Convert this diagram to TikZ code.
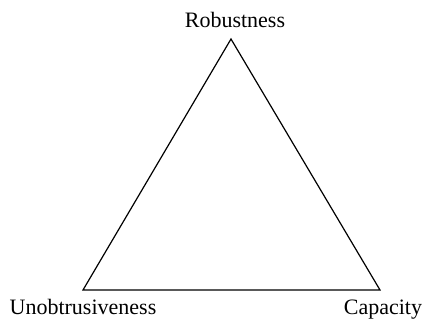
\documentclass[tikz,border=0pt]{standalone}
\usepackage{fontspec}
\setmainfont{Liberation Serif}
\usetikzlibrary{positioning}

\begin{document}
\begin{tikzpicture}[x=1pt, y=-1pt,
  corner/.style={inner sep=0pt, anchor=base, font=\fontsize{22}{26}\selectfont}]
  \useasboundingbox (0,0) rectangle (424,320);
  \coordinate (rob) at (231,39);
  \coordinate (unob) at (83,290);
  \coordinate (cap) at (380,290);
  \node[corner, above=11pt of rob, anchor=base, xshift=4pt] (robLabel) {Robustness};
  \node[corner, below=25pt of unob, anchor=base] (unobLabel) {Unobtrusiveness};
  \node[corner, below=25pt of cap, anchor=base, xshift=3pt] (capLabel) {Capacity};
  \draw[line width=1.2pt] (rob) -- (unob) -- (cap) -- cycle;
\end{tikzpicture}
\end{document}
